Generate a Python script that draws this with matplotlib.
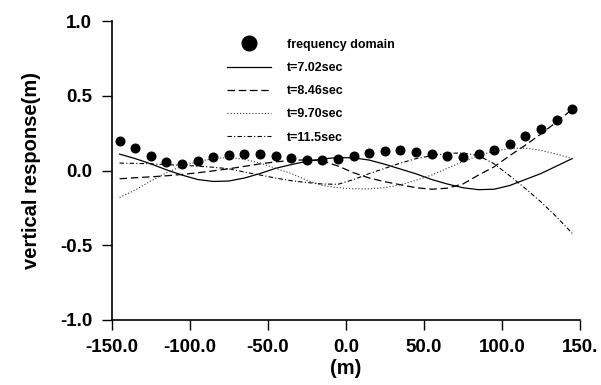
import numpy as np
import matplotlib.pyplot as plt

plt.rcParams['font.family'] = ['Liberation Sans', 'DejaVu Sans']
plt.rcParams['font.weight'] = 'bold'

# ===== Data =====
x = np.arange(-145, 146, 10)

freq_domain = [0.20, 0.15, 0.10, 0.06, 0.045, 0.065, 0.09, 0.105, 0.11, 0.11,
               0.10, 0.085, 0.07, 0.07, 0.08, 0.10, 0.115, 0.13, 0.135, 0.125,
               0.11, 0.10, 0.09, 0.11, 0.14, 0.18, 0.23, 0.28, 0.34, 0.41]

t702 = [0.11, 0.08, 0.045, 0.005, -0.03, -0.06, -0.073, -0.07, -0.05, -0.02,
        0.015, 0.04, 0.062, 0.078, 0.087, 0.085, 0.07, 0.042, 0.01, -0.022,
        -0.06, -0.09, -0.115, -0.128, -0.125, -0.10, -0.06, -0.02, 0.03, 0.08]

t846 = [-0.055, -0.048, -0.042, -0.035, -0.026, -0.015, -0.002, 0.012, 0.028, 0.045,
        0.058, 0.068, 0.072, 0.065, 0.03, -0.015, -0.05, -0.075, -0.095, -0.115,
        -0.125, -0.118, -0.09, -0.03, 0.025, 0.10, 0.17, 0.245, 0.325, 0.41]

t970 = [-0.18, -0.13, -0.07, -0.015, 0.03, 0.06, 0.08, 0.088, 0.075, 0.05,
        0.015, -0.02, -0.065, -0.10, -0.115, -0.122, -0.122, -0.115, -0.095, -0.065,
        -0.03, 0.015, 0.06, 0.10, 0.13, 0.148, 0.15, 0.135, 0.11, 0.08]

t115 = [0.05, 0.048, 0.045, 0.04, 0.035, 0.03, 0.022, 0.012, -0.01, -0.03,
        -0.05, -0.068, -0.08, -0.09, -0.092, -0.06, -0.02, 0.015, 0.05, 0.08,
        0.10, 0.115, 0.118, 0.10, 0.045, -0.035, -0.12, -0.21, -0.31, -0.42]

xticks = [-150, -100, -50, 0, 50, 100, 150]
xticklabels = ['-150.0', '-100.0', '-50.0', '0.0', '50.0', '100.0', '150.']
yticks = [-1.0, -0.5, 0.0, 0.5, 1.0]

# ===== Plot =====
fig = plt.figure(figsize=(6.01, 3.85), dpi=100)
ax = fig.add_axes([0.186, 0.169, 0.779, 0.776])

ax.plot(x, freq_domain, 'o', color='black', markersize=6.2, label='frequency domain')
ax.plot(x, t702, '-', color='black', lw=0.9, label='t=7.02sec')
ax.plot(x, t846, color='black', lw=0.9, ls=(0, (6, 3)), label='t=8.46sec')
ax.plot(x, t970, color='#333333', lw=0.8, ls=(0, (1, 1.8)), label='t=9.70sec')
ax.plot(x, t115, color='black', lw=0.8, ls=(0, (4, 2, 1, 2)), label='t=11.5sec')

ax.set_xlim(-150, 150)
ax.set_ylim(-1.0, 1.0)
ax.set_xticks(xticks)
ax.set_xticklabels(xticklabels)
ax.set_yticks(yticks)
ax.set_yticklabels(['%.1f' % v for v in yticks])

for s in ['top', 'right']:
    ax.spines[s].set_visible(False)
ax.spines['left'].set_linewidth(1.2)
ax.spines['bottom'].set_linewidth(1.2)
ax.tick_params(axis='both', direction='out', length=7, width=1, labelsize=13.5)
ax.tick_params(axis='y', pad=7)
ax.tick_params(axis='x', pad=7)

ax.set_xlabel('(m)', fontsize=14.5, fontweight='bold', labelpad=2)
ax.set_ylabel('vertical response(m)', fontsize=14.5, fontweight='bold', labelpad=14)

leg = ax.legend(loc='upper left', bbox_to_anchor=(0.235, 0.958), frameon=False,
                fontsize=9, handlelength=3.5, labelspacing=0.9, markerscale=1.7,
                handletextpad=1.3, borderaxespad=0)
for t in leg.get_texts():
    t.set_fontweight('bold')

fig.savefig('out.png', dpi=100)
